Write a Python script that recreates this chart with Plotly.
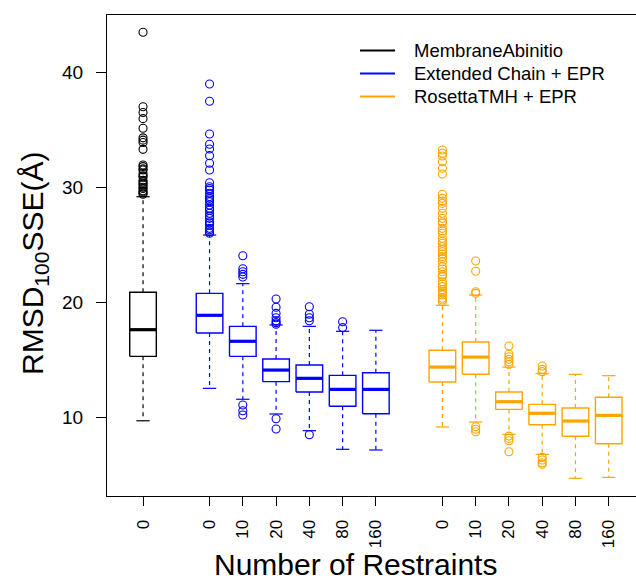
import plotly.graph_objects as go

# Box positions along the x axis and their tick labels
positions = [1, 3, 4, 5, 6, 7, 8, 10, 11, 12, 13, 14, 15]
tick_labels = ["0", "0", "10", "20", "40", "80", "160", "0", "10", "20", "40", "80", "160"]
groups = ["MembraneAbinitio"] + ["Extended Chain + EPR"] * 6 + ["RosettaTMH + EPR"] * 6

# Five-number summaries (lower whisker, Q1, median, Q3, upper whisker)
lower_whisker = [9.70, 12.52, 11.57, 10.29, 8.84, 7.22, 7.16, 9.16, 9.59, 8.52, 6.78, 4.70, 4.78]
q1 = [15.30, 17.33, 15.30, 13.10, 12.20, 10.96, 10.31, 13.07, 13.74, 10.69, 9.36, 8.35, 7.70]
median = [17.62, 18.87, 16.61, 14.11, 13.39, 12.43, 12.43, 14.37, 15.24, 11.36, 10.35, 9.68, 10.17]
q3 = [20.87, 20.78, 17.91, 15.07, 14.55, 13.65, 13.88, 15.83, 16.55, 12.20, 11.13, 10.81, 11.74]
upper_whisker = [29.18, 25.85, 21.62, 18.03, 17.91, 17.48, 17.57, 19.74, 20.63, 14.37, 13.79, 13.74, 13.62]

# Outlying values for each box
outliers = [
    [43.48, 37.0, 36.5, 35.97, 35.13, 34.3, 34.1, 33.9, 33.3, 31.94, 31.8, 31.6, 31.5, 31.2,
     31.0, 30.9, 30.6, 30.46, 30.3, 30.2, 30.0, 29.9, 29.7, 29.6, 29.5, 29.4],
    [38.98, 37.48, 34.63, 33.74, 33.33, 32.75, 32.09, 31.5, 30.4, 30.05, 29.9, 29.77, 29.48,
     29.2, 29.04, 28.9, 28.75, 28.46, 28.17, 28.0, 27.74, 27.5, 27.3, 27.0, 26.9, 26.72,
     26.43, 26.3, 26.14, 26.0],
    [24.05, 22.92, 22.66, 22.43, 22.2, 11.07, 10.57, 10.2],
    [20.29, 19.57, 19.04, 18.66, 18.4, 18.23, 18.1, 9.88, 8.98],
    [19.62, 18.96, 18.66, 18.4, 8.49],
    [18.31, 17.8],
    [],
    [33.24, 32.96, 32.72, 32.23, 31.65, 31.16, 29.39, 29.04, 28.8, 28.6, 28.17, 27.74, 27.3,
     27.0, 26.87, 26.43, 26.2, 26.0, 25.57, 25.3, 25.13, 24.84, 24.6, 24.4, 24.2, 23.97,
     23.8, 23.53, 23.1, 22.9, 22.66, 22.4, 22.23, 21.79, 21.6, 21.36, 21.1, 20.92, 20.8,
     20.63, 20.35, 20.2, 20.05],
    [23.59, 22.7, 20.92, 20.78, 9.18, 8.96, 8.75],
    [16.2, 15.5, 15.27, 15.04, 14.83, 14.6, 8.37, 8.17, 7.97, 7.01],
    [14.46, 14.17, 13.97, 6.52, 6.29, 6.05, 5.91],
    [],
    [],
]

series_names = ["MembraneAbinitio", "Extended Chain + EPR", "RosettaTMH + EPR"]
series_colors = {"MembraneAbinitio": "#000000",
                 "Extended Chain + EPR": "#0000FF",
                 "RosettaTMH + EPR": "#FFA500"}

BOX_HALF = 0.4
STAPLE_HALF = 0.2

fig = go.Figure()

for name in series_names:
    col = series_colors[name]
    idx = [i for i, g in enumerate(groups) if g == name]
    bx, by, mx, my, wx, wy, sx, sy, ox, oy = [], [], [], [], [], [], [], [], [], []
    for i in idx:
        p = positions[i]
        bx += [p - BOX_HALF, p + BOX_HALF, p + BOX_HALF, p - BOX_HALF, p - BOX_HALF, None]
        by += [q1[i], q1[i], q3[i], q3[i], q1[i], None]
        mx += [p - BOX_HALF, p + BOX_HALF, None]
        my += [median[i], median[i], None]
        wx += [p, p, None, p, p, None]
        wy += [q3[i], upper_whisker[i], None, q1[i], lower_whisker[i], None]
        sx += [p - STAPLE_HALF, p + STAPLE_HALF, None, p - STAPLE_HALF, p + STAPLE_HALF, None]
        sy += [upper_whisker[i], upper_whisker[i], None, lower_whisker[i], lower_whisker[i], None]
        ox += [p] * len(outliers[i])
        oy += outliers[i]
    line_kw = dict(mode="lines", showlegend=False, hoverinfo="skip")
    fig.add_trace(go.Scatter(x=wx, y=wy, line=dict(color=col, width=1.2, dash="4px,4px"), **line_kw))
    fig.add_trace(go.Scatter(x=sx, y=sy, line=dict(color=col, width=1.2), **line_kw))
    fig.add_trace(go.Scatter(x=bx, y=by, line=dict(color=col, width=1.4), **line_kw))
    fig.add_trace(go.Scatter(x=mx, y=my, line=dict(color=col, width=3.2), **line_kw))
    fig.add_trace(go.Scatter(x=ox, y=oy, mode="markers", showlegend=False,
                             marker=dict(symbol="circle-open", size=8, color=col,
                                         line=dict(width=1.1, color=col))))

# pixel helpers for the annotation/legend layer
L, R, T, B, W, H = 107, 0, 15, 86, 636, 582
PW, PH = W - L - R, H - T - B


def px_x(px):
    return (px - L) / PW


def px_y(py):
    return (H - B - py) / PH


FONT = "Liberation Sans, Arial, Helvetica, sans-serif"

# legend drawn as short line keys with labels
legend_rows = [50.5, 73.5, 96.5]
for name, ry in zip(series_names, legend_rows):
    fig.add_shape(type="line", xref="paper", yref="paper",
                  x0=px_x(360), x1=px_x(395), y0=px_y(ry), y1=px_y(ry),
                  line=dict(color=series_colors[name], width=2))
    fig.add_annotation(text=name, xref="paper", yref="paper", x=px_x(412), y=px_y(ry),
                       xanchor="left", yanchor="middle", showarrow=False,
                       font=dict(family=FONT, size=18.5, color="#000000"))

# axis titles
fig.add_annotation(text="Number of Restraints", xref="paper", yref="paper",
                   x=px_x(355), y=px_y(564), xanchor="center", yanchor="middle",
                   showarrow=False, font=dict(family=FONT, size=30, color="#000000"))
fig.add_annotation(text="RMSD<sub>100</sub>SSE(Å)", xref="paper", yref="paper",
                   x=px_x(34), y=px_y(264), xanchor="center", yanchor="middle",
                   textangle=-90, showarrow=False,
                   font=dict(family=FONT, size=30, color="#000000"))

fig.update_layout(
    width=W, height=H,
    margin=dict(l=L, r=R, t=T, b=B, pad=0),
    paper_bgcolor="white", plot_bgcolor="white",
    showlegend=False,
    font=dict(family=FONT, color="#000000"),
    xaxis=dict(range=[-0.083, 15.82], tickmode="array", tickvals=positions,
               ticktext=tick_labels, tickangle=-90, ticks="outside", ticklen=9,
               tickwidth=1, tickcolor="#000000", showgrid=False, zeroline=False,
               showline=True, linecolor="#000000", linewidth=1, mirror=True,
               tickfont=dict(family=FONT, size=17), ticklabelstandoff=7),
    yaxis=dict(range=[3.16, 44.98], tickmode="array", tickvals=[10, 20, 30, 40],
               ticks="outside", ticklen=10, tickwidth=1, tickcolor="#000000",
               showgrid=False, zeroline=False, showline=True, linecolor="#000000",
               linewidth=1, tickfont=dict(family=FONT, size=19), ticklabelstandoff=9),
)

fig.write_html("out.html")
